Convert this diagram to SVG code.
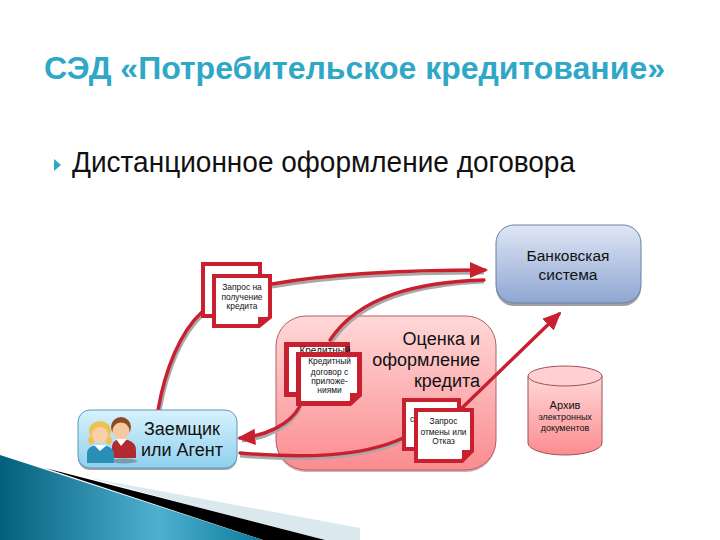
<svg xmlns="http://www.w3.org/2000/svg" width="720" height="540" viewBox="0 0 720 540">
<style>
text{font-family:"Liberation Sans",Arial,sans-serif;fill:#111;text-anchor:middle}
.doc{fill:#fff;stroke:#c8202e}
.cn{fill:none;stroke:#c8202e;stroke-width:3.400;stroke-linecap:round}
.sh{fill:none;stroke:#a8a8a8;stroke-width:3}
.s{font-size:8.400px}
</style>
<defs>
<linearGradient id="bank" x1="0" y1="0" x2="0" y2="1"><stop offset="0" stop-color="#dfe6f5"/><stop offset="1" stop-color="#8fa6d2"/></linearGradient>
<linearGradient id="pink" x1="0" y1="0" x2="0" y2="1"><stop offset="0" stop-color="#ffd8d8"/><stop offset="1" stop-color="#fb8c90"/></linearGradient>
<linearGradient id="blue" x1="0" y1="0" x2="0" y2="1"><stop offset="0" stop-color="#d8f2fd"/><stop offset="1" stop-color="#8fd0ee"/></linearGradient>
<linearGradient id="teal" x1="0" y1="0" x2="1" y2="0"><stop offset="0" stop-color="#03607c"/><stop offset=".6" stop-color="#4fb0d0"/><stop offset="1" stop-color="#0b7c9c"/></linearGradient>
<marker id="ah" markerWidth="6" markerHeight="6" refX="4.500" refY="3" orient="auto"><path d="M0,0.6L5.400,3L0,5.400Z" fill="#c8202e"/></marker>
</defs>
<g id="decor">
<polygon points="90,478 360,528 360,540 320,540" fill="#dbe9ee"/>
<polygon points="45,468 325,540 263,540" fill="#000"/>
<polygon points="0,455 263,540 0,540" fill="url(#teal)"/>
</g>
<g id="title">
<text x="354.500" y="79" font-size="31" font-weight="bold" style="fill:#2fa8c8" textLength="621" lengthAdjust="spacingAndGlyphs">СЭД «Потребительское кредитование»</text>
<polygon points="54,159 61,165 54,171" fill="#2fa8c8"/>
<text x="323.500" y="172" font-size="29" textLength="503" lengthAdjust="spacingAndGlyphs">Дистанционное оформление договора</text>
</g>
<g id="bank-system">
<rect x="496" y="228" width="145" height="78" rx="18" fill="#777" opacity=".7"/>
<rect x="496" y="225" width="145" height="78" rx="18" fill="url(#bank)" stroke="#6a7fa8"/>
<text x="568" y="261" font-size="15.500">Банковская</text>
<text x="568" y="280" font-size="15.500">система</text>
</g>
<g id="assessment">
<rect x="276" y="316" width="220" height="154" rx="30" fill="#b77" opacity=".6" transform="translate(0 2)"/>
<rect x="276" y="316" width="220" height="154" rx="30" fill="url(#pink)" stroke="#b06068"/>
<text x="480" y="345" font-size="18" style="text-anchor:end">Оценка и</text>
<text x="480" y="366" font-size="18" style="text-anchor:end">оформление</text>
<text x="480" y="387" font-size="18" style="text-anchor:end">кредита</text>
</g>
<g id="archive">
<path d="M528,376V443A37,12 0 0 0 602,443V376Z" fill="url(#pink)" stroke="#a05058"/>
<ellipse cx="565" cy="376" rx="37" ry="10" fill="#ffcfd2" stroke="#a05058"/>
<text x="565" y="409" font-size="11">Архив</text>
<text x="565" y="420" font-size="9">электронных</text>
<text x="565" y="431" font-size="9">документов</text>
</g>
<g id="connectors">
<path class="sh" d="M272,287C340,275 420,273 484,273"/>
<path class="sh" d="M160,411C167,371 182,334 204,314"/>
<path class="sh" d="M332,342C362,298 420,285 484,282"/>
<path class="sh" d="M300,409C290,428 265,439 242,441"/>
<path class="sh" d="M240,456C300,461 360,461 403,441"/>
<path class="cn" d="M272,284C340,272 420,270 485,270" marker-end="url(#ah)"/>
<path class="cn" d="M158,410C165,370 180,332 202,312"/>
<path class="cn" d="M330,340C360,295 420,282 484,280"/>
<path class="cn" d="M300,406C290,425 265,436 240,438" marker-end="url(#ah)"/>
<path class="cn" d="M240,453C300,458 360,458 403,438"/>
<path class="cn" d="M462,408L559,314" marker-end="url(#ah)"/>
</g>
<g id="doc-request">
<rect x="203" y="264" width="57" height="52" class="doc" stroke-width="4"/>
<path d="M214,276H270V317L259,326H214Z" class="doc" stroke-width="4"/>
<path d="M258,327V317H271Z" fill="#c8202e"/>
<text x="242" y="290" class="s">Запрос на</text>
<text x="242" y="300" class="s">получение</text>
<text x="242" y="309" class="s">кредита</text>
</g>
<g id="doc-contract">
<rect x="286.500" y="344.500" width="61" height="50" class="doc" stroke-width="5"/>
<text x="325" y="354" font-size="10">Кредитный</text>
<path d="M298.500,354.500H359.500V395L350,403.500H298.500Z" class="doc" stroke-width="5"/>
<path d="M350,404V393H361Z" fill="#c8202e"/>
<text x="329.500" y="364" class="s">Кредитный</text>
<text x="329.500" y="375" class="s">договор с</text>
<text x="329.500" y="384" class="s">приложе-</text>
<text x="329.500" y="393" class="s">ниями</text>
</g>
<g id="doc-cancel">
<rect x="404" y="400" width="55" height="49" class="doc" stroke-width="4"/>
<text x="412" y="422" class="s">с</text>
<path d="M416,410H472V451L462,461H416Z" class="doc" stroke-width="4"/>
<path d="M462,461V450H473Z" fill="#c8202e"/>
<text x="443.500" y="424" class="s">Запрос</text>
<text x="443.500" y="435" class="s">отмены или</text>
<text x="443.500" y="444" class="s">Отказ</text>
</g>
<g id="borrower">
<rect x="78" y="413" width="159" height="57" rx="12" fill="#667" opacity=".6"/>
<rect x="78" y="410" width="159" height="58" rx="12" fill="url(#blue)" stroke="#5a9ab8"/>
<ellipse cx="124" cy="461" rx="13" ry="2.500" fill="#7a9ab0"/>
<circle cx="121" cy="427" r="10" fill="#8a4a22"/>
<circle cx="121" cy="431" r="8.500" fill="#f5c9a0"/>
<path d="M112,458V447C112,442 116,439 121,439C130,439 136,443 136,450V458Z" fill="#b02a30"/>
<path d="M116,439H127L121,446Z" fill="#fff"/>
<ellipse cx="100" cy="431" rx="11" ry="10" fill="#f0c050"/>
<path d="M89,437Q86,443 92,445L97,438Z" fill="#f0c050"/>
<path d="M111,437Q114,443 108,445L103,438Z" fill="#f0c050"/>
<circle cx="100" cy="435" r="8" fill="#f8cfa8"/>
<path d="M87,463V453C87,447 94,445 100,445C107,445 114,448 114,454V463Z" fill="#2a8fb8"/>
<path d="M94,445H107L100,451Z" fill="#fff"/>
<text x="182" y="435" font-size="18">Заемщик</text>
<text x="182" y="456" font-size="18">или Агент</text>
</g>
</svg>
